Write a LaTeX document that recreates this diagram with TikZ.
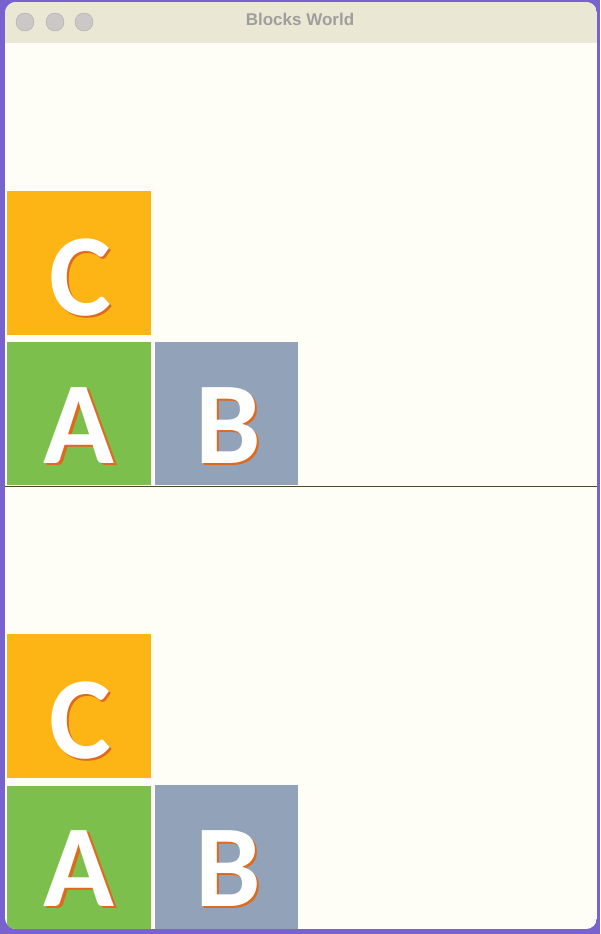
\documentclass[tikz,border=0pt]{standalone}
\usepackage{fontspec}
\setmainfont{Carlito}
\newfontfamily\titlefont{Liberation Sans}
\newfontfamily\blockfont{Carlito}
\definecolor{deskpurple}{HTML}{7862D0}
\definecolor{winbg}{HTML}{FFFEF6}
\definecolor{titlebg}{HTML}{EBE7D5}
\definecolor{titlegrey}{HTML}{A09E9C}
\definecolor{lightgrey}{HTML}{CCC8C8}
\definecolor{orangeC}{HTML}{FDB515}
\definecolor{greenA}{HTML}{7DBF4C}
\definecolor{greyB}{HTML}{92A2B8}
\definecolor{shadoworange}{HTML}{E0691C}
\definecolor{floorline}{HTML}{4A4A2A}
\newcommand{\shadowed}[1]{\rlap{\hspace{2.5pt}\raisebox{-2.5pt}{\textcolor{shadoworange}{#1}}}#1}
\begin{document}
\begin{tikzpicture}[x=1pt,y=-1pt,
  blockbox/.style={rectangle, draw=none, inner sep=0pt, anchor=north west},
  letter/.style={anchor=base, text=white, inner sep=0pt,
    font=\blockfont\bfseries\fontsize{117}{117}\selectfont},
  light/.style={circle, fill=lightgrey, draw=lightgrey!85!black, line width=0.4pt, minimum size=18pt, inner sep=0pt}]
\fill[deskpurple] (0,0) rectangle (600,934);
\useasboundingbox (0,0) rectangle (600,934);
\begin{scope}
\clip[rounded corners=11pt] (5,2) rectangle (597,929);
\fill[winbg] (5,2) rectangle (597,929);
\fill[titlebg] (5,2) rectangle (597,43);
% top world
\node[blockbox, fill=orangeC, minimum width=144pt, minimum height=144pt] (c1) at (7,191) {};
\node[blockbox, fill=greenA, minimum width=144pt, minimum height=143pt] (a1) at (7,342) {};
\node[blockbox, fill=greyB, minimum width=143pt, minimum height=143pt] (b1) at (155,342) {};
\node[letter] (c1t) at (80,315) {\shadowed{C}};
\node[letter] (a1t) at (79,463) {\shadowed{A}};
\node[letter] (b1t) at (228,463) {\shadowed{B}};
\coordinate (fl) at (5,486.5);
\coordinate (fr) at (597,486.5);
\draw[floorline, line width=1.6pt] (fl) -- (fr);
% bottom world
\node[blockbox, fill=orangeC, minimum width=144pt, minimum height=144pt] (c2) at (7,634) {};
\node[blockbox, fill=greenA, minimum width=144pt, minimum height=145pt] (a2) at (7,786) {};
\node[blockbox, fill=greyB, minimum width=143pt, minimum height=145pt] (b2) at (155,785) {};
\node[letter] (c2t) at (80,758) {\shadowed{C}};
\node[letter] (a2t) at (79,906) {\shadowed{A}};
\node[letter] (b2t) at (228,906) {\shadowed{B}};
\end{scope}
% title bar
\node[light] (l1) at (25,22) {};
\node[light] (l2) at (55,22) {};
\node[light] (l3) at (84,22) {};
\node[anchor=base, inner sep=0pt, text=titlegrey, font=\titlefont\bfseries\fontsize{17}{17}\selectfont] (title) at (300,26) {Blocks World};
\end{tikzpicture}
\end{document}
